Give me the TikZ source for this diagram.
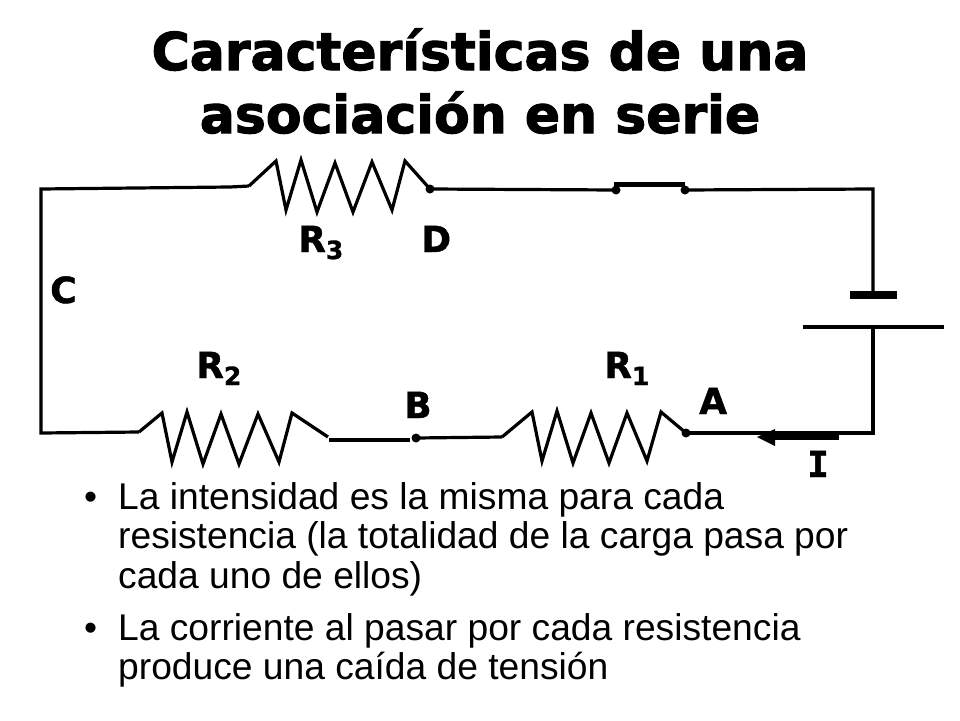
\documentclass[tikz,border=0pt]{standalone}
\usepackage{fontspec}
\setmainfont{Liberation Sans}
\newfontfamily\titlefont{DejaVu Sans Bold}[FakeBold=2.2]
\newfontfamily\labfont{DejaVu Sans Bold}[FakeBold=1.2]
\newfontfamily\ifont{DejaVu Sans Mono Bold}[FakeBold=1.2]
\begin{document}
\begin{tikzpicture}[x=1pt,y=-1pt,
  wire/.style={line width=3.2pt,line join=miter,black},
  thin wire/.style={line width=3.2pt,black},
  dot/.style={circle,fill=black,inner sep=0pt,minimum size=9pt},
  titletext/.style={font=\titlefont\fontsize{52}{60}\selectfont,anchor=base,inner sep=0pt},
  lab/.style={font=\labfont\fontsize{36}{40}\selectfont,anchor=base west,inner sep=0pt},
  bodytext/.style={font=\fontsize{37.2}{40}\selectfont,anchor=base west,inner sep=0pt}]
\useasboundingbox (0,0) rectangle (960,720);
\fill[white] (0,0) rectangle (960,720);
\newcommand{\sublab}[1]{\raisebox{-7pt}{\fontsize{25}{28}\selectfont #1}}
% titles
\node[titletext] (t1) at (480,70) {Características de una};
\node[titletext] (t2) at (480,133) {asociación en serie};
% corners and terminals
\coordinate (TL) at (41,189);
\coordinate (BL) at (41,433);
\coordinate (TR) at (873,189);
\coordinate (BR) at (873,433);
\node[dot] (D) at (430,189) {};
\node[dot] (S1) at (616,190) {};
\node[dot] (S2) at (685,190) {};
\node[dot] (B) at (416,438) {};
\node[dot] (A) at (686,433) {};
\coordinate (Bat1) at (873,295);
\coordinate (Bat2) at (873,325);
\coordinate (R3in) at (249,186);
\coordinate (R2in) at (139,432);
\coordinate (R2out) at (329,440);
\coordinate (R1in) at (502,437);
% wires
\draw[wire] (R3in) -- (230,187) -- (TL) -- (BL) -- (R2in);
\draw[wire] (D.center) -- (S1.center);
\draw[wire] (S2.center) -- (TR) -- (Bat1);
\draw[wire] (Bat2) -- (BR) -- (A.center);
\draw[wire] (R2out) -- (410,440);
\draw[wire] (B.center) -- (R1in);
% switch
\draw[line width=5pt] (614,184) -- (685,184);
% battery
\draw[line width=7.5pt] (850,295) -- (897,295);
\draw[wire] (803,327) -- (944,327);
% resistors
\draw[thin wire] (R3in) -- (276,161) -- (286,210) -- (301,160) -- (317,212) -- (335,163) -- (353,212) -- (372,162) -- (392,210) -- (405,161) -- (D.center);
\draw[thin wire] (R2in) -- (162,413) -- (172,462) -- (187,412) -- (203,464) -- (221,414) -- (239,464) -- (258,414) -- (279,462) -- (292,413) -- (328,437);
\draw[thin wire] (R1in) -- (532,412) -- (542,461) -- (557,411) -- (573,463) -- (591,413) -- (609,463) -- (627,413) -- (647,461) -- (661,412) -- (A.center);
% current arrow
\draw[line width=7.5pt] (839,436) -- (772,436);
\fill (757,437) -- (775,429) -- (775,446) -- cycle;
% labels
\node[lab] (lR3) at (298,252) {R\sublab{3}};
\node[lab] (lD) at (421,252) {D};
\node[lab] (lC) at (50,303) {C};
\node[lab] (lR2) at (196,378) {R\sublab{2}};
\node[lab] (lB) at (404,418) {B};
\node[lab] (lR1) at (604,378) {R\sublab{1}};
\node[lab] (lA) at (699,414) {A};
\node[lab,font=\ifont\fontsize{36}{40}\selectfont] (lI) at (807,477) {I};
% body
\node[bodytext] (b0) at (84,509) {•};
\node[bodytext] (b1) at (118,509) {La intensidad es la misma para cada};
\node[bodytext] (b2) at (118,548) {resistencia (la totalidad de la carga pasa por};
\node[bodytext] (b3) at (118,588) {cada uno de ellos)};
\node[bodytext] (b4) at (84,640) {•};
\node[bodytext] (b5) at (118,640) {La corriente al pasar por cada resistencia};
\node[bodytext] (b6) at (118,679) {produce una caída de tensión};
\end{tikzpicture}
\end{document}
